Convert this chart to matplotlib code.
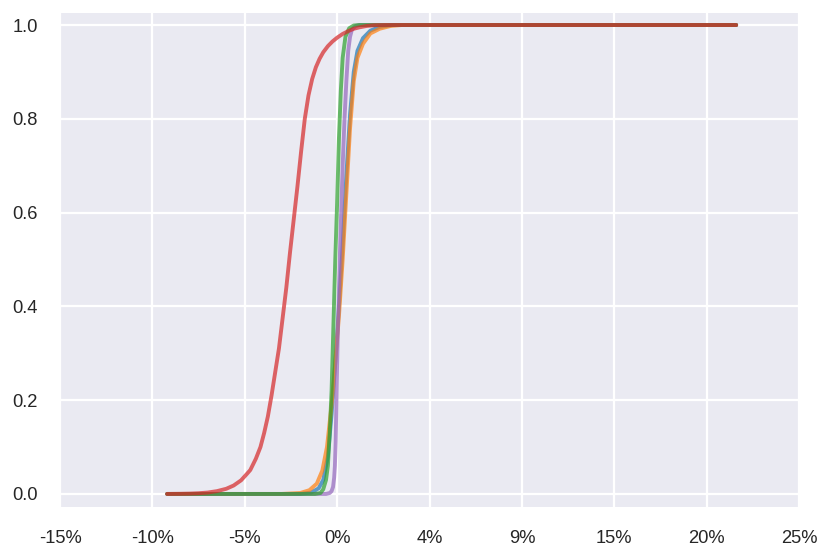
import matplotlib
matplotlib.use("Agg")
import matplotlib.pyplot as plt
from matplotlib.ticker import FixedLocator, FixedFormatter

plt.rcParams['font.family'] = ['Liberation Sans', 'DejaVu Sans']

# x values in percent, y = cumulative probability
blue_x = [-9.2, -2.0, -1.4, -1.0, -0.75, -0.5, -0.3, -0.1, 0.1, 0.3, 0.5, 0.7, 0.9, 1.1, 1.4, 1.8, 2.3, 3.0, 21.6]
blue_y = [0.0, 0.0, 0.003, 0.012, 0.03, 0.08, 0.17, 0.28, 0.40, 0.53, 0.68, 0.81, 0.90, 0.945, 0.972, 0.988, 0.996, 1.0, 1.0]

orange_x = [-9.2, -3.0, -2.0, -1.5, -1.1, -0.8, -0.55, -0.3, -0.1, 0.1, 0.3, 0.5, 0.7, 0.9, 1.1, 1.4, 1.8, 2.3, 2.9, 3.5, 21.6]
orange_y = [0.0, 0.0, 0.002, 0.008, 0.022, 0.05, 0.10, 0.19, 0.28, 0.38, 0.50, 0.64, 0.78, 0.88, 0.93, 0.96, 0.982, 0.992, 0.998, 1.0, 1.0]

purple_x = [-9.2, -0.6, -0.4, -0.3, -0.22, -0.16, -0.12, -0.08, -0.05, -0.02, 0.03, 0.08, 0.15, 0.22, 0.3, 0.4,
            0.5, 0.6, 0.7, 0.8, 1.0, 1.2, 21.6]
purple_y = [0.0, 0.0, 0.002, 0.006, 0.015, 0.035, 0.06, 0.11, 0.17, 0.24, 0.33, 0.41, 0.51, 0.60, 0.70, 0.80,
            0.88, 0.945, 0.975, 0.99, 0.998, 1.0, 1.0]

green_x = [-9.2, -1.2, -0.9, -0.75, -0.6, -0.5, -0.4, -0.3, -0.2, -0.1, 0.0, 0.1, 0.2, 0.3, 0.45, 0.65, 0.9, 1.2, 21.6]
green_y = [0.0, 0.0, 0.002, 0.01, 0.03, 0.06, 0.13, 0.22, 0.36, 0.50, 0.62, 0.76, 0.86, 0.93, 0.975, 0.993, 0.999, 1.0, 1.0]

red_x = [-9.2, -8.5, -8.0, -7.5, -7.0, -6.5, -6.0, -5.6, -5.2, -4.9, -4.7, -4.4, -4.15, -3.95, -3.75, -3.55,
         -3.35, -3.15, -2.95, -2.75, -2.55, -2.35, -2.15, -1.95, -1.75, -1.55, -1.35, -1.15, -0.95, -0.75,
         -0.5, -0.25, 0.0, 0.3, 0.6, 0.9, 1.2, 1.6, 2.0, 2.6, 21.6]
red_y = [0.0, 0.0003, 0.0007, 0.0015, 0.003, 0.006, 0.011, 0.018, 0.029, 0.042, 0.051, 0.075, 0.10, 0.13, 0.165,
         0.21, 0.26, 0.31, 0.375, 0.44, 0.515, 0.585, 0.655, 0.73, 0.80, 0.85, 0.885, 0.91, 0.928, 0.942,
         0.955, 0.965, 0.973, 0.981, 0.987, 0.992, 0.995, 0.998, 0.9995, 1.0, 1.0]

x_ticks = [-15, -10, -5, 0, 5, 10, 15, 20, 25]
x_tick_labels = ['-15%', '-10%', '-5%', '0%', '4%', '9%', '15%', '20%', '25%']
y_ticks = [0.0, 0.2, 0.4, 0.6, 0.8, 1.0]
y_tick_labels = ['0.0', '0.2', '0.4', '0.6', '0.8', '1.0']

fig = plt.figure(figsize=(8.31, 5.59), dpi=100)
ax = fig.add_axes([60 / 831, 1 - 507.3 / 559, 739 / 831, 494 / 559])
ax.set_facecolor('#eaeaf2')
for s in ax.spines.values():
    s.set_visible(False)
ax.grid(True, color='white', linewidth=1.6)
ax.set_axisbelow(True)

series = [
    (blue_x, blue_y, '#1f77b4'),
    (orange_x, orange_y, '#ff7f0e'),
    (purple_x, purple_y, '#9467bd'),
    (green_x, green_y, '#2ca02c'),
    (red_x, red_y, '#d62728'),
]
for xs, ys, c in series:
    ax.plot(xs, ys, color=c, lw=2.8, alpha=0.7, solid_capstyle='round', solid_joinstyle='round')

ax.set_xlim(-15, 25)
ax.set_ylim(-0.0285, 1.025)
ax.xaxis.set_major_locator(FixedLocator(x_ticks))
ax.xaxis.set_major_formatter(FixedFormatter(x_tick_labels))
ax.yaxis.set_major_locator(FixedLocator(y_ticks))
ax.yaxis.set_major_formatter(FixedFormatter(y_tick_labels))
ax.tick_params(axis='both', length=0, labelsize=13.2, colors='#262626')
ax.tick_params(axis='x', pad=16)
ax.tick_params(axis='y', pad=16)

fig.savefig('out.png', dpi=100)
